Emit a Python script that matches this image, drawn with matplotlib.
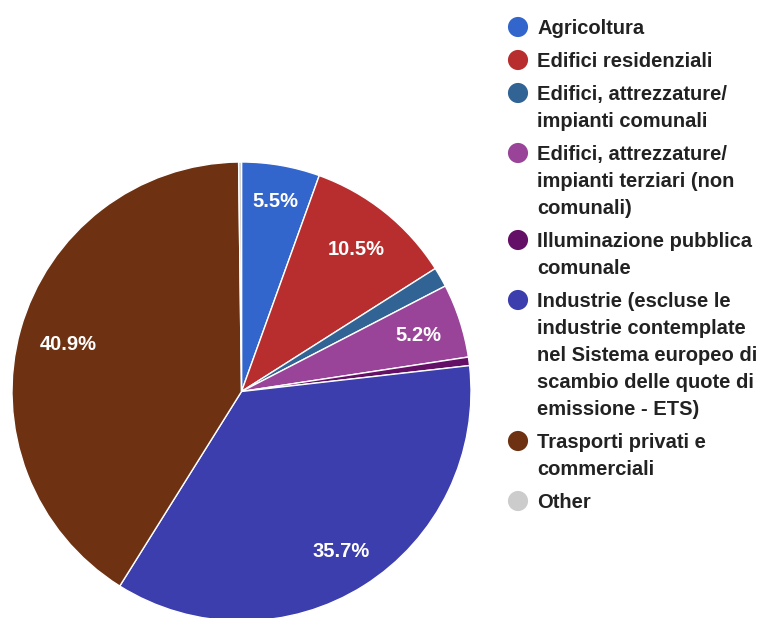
import numpy as np
import matplotlib
matplotlib.use("Agg")
import matplotlib.pyplot as plt

categories = [
    "Agricoltura",
    "Edifici residenziali",
    "Edifici, attrezzature/\nimpianti comunali",
    "Edifici, attrezzature/\nimpianti terziari (non\ncomunali)",
    "Illuminazione pubblica\ncomunale",
    "Industrie (escluse le\nindustrie contemplate\nnel Sistema europeo di\nscambio delle quote di\nemissione - ETS)",
    "Trasporti privati e\ncommerciali",
    "Other",
]
shares = [5.5, 10.5, 1.4, 5.2, 0.6, 35.7, 40.9, 0.2]
colors = ["#3366cc", "#b82e2e", "#316395", "#994499", "#651067",
          "#3b3eac", "#6e3212", "#cccccc"]

# radial placement of the percentage labels (fraction of the radius)
label_radius = [0.848, 0.80, 0.81, 0.812, 0.81, 0.814, 0.782, 0.81]

plt.rcParams["font.family"] = ["Liberation Sans", "DejaVu Sans"]

W, H = 763, 618
fig = plt.figure(figsize=(W / 100, H / 100), dpi=100)

# pie axes: centre (241.5, 391.5) px, radius 229.5 px
cx, cy, R = 241.5, 391.5, 229.5
ax = fig.add_axes([(cx - R) / W, 1 - (cy + R) / H, 2 * R / W, 2 * R / H])

wedges, _ = ax.pie(
    shares, colors=colors, startangle=90, counterclock=False, radius=1.0,
    wedgeprops=dict(edgecolor="white", linewidth=1.0),
)
ax.set_xlim(-1, 1)
ax.set_ylim(-1, 1)
ax.set_aspect("equal")
ax.axis("off")
for w in wedges:
    w.set_clip_on(False)

total = sum(shares)
lab_fs = 14.5
for w, v, r in zip(wedges, shares, label_radius):
    pct = 100 * v / total
    if pct < 5:
        continue
    ang = np.deg2rad((w.theta1 + w.theta2) / 2)
    ax.annotate(f"{pct:.1f}%", xy=(r * np.cos(ang), r * np.sin(ang)),
                xytext=(0, -0.358 * lab_fs), textcoords="offset points",
                ha="center", va="baseline", color="white",
                fontsize=lab_fs, fontweight="bold", annotation_clip=False)

# legend: overlay axes in pixel coordinates (y grows downward)
lax = fig.add_axes([0, 0, 1, 1], facecolor="none")
lax.set_xlim(0, W)
lax.set_ylim(H, 0)
lax.axis("off")

fs = 14.5
x_dot, x_txt = 518, 537
line_step, entry_gap = 27, 33
y = 27
for lab, col in zip(categories, colors):
    lines = lab.split("\n")
    lax.scatter([x_dot], [y], s=210, color=col, edgecolors="none")
    for i, ln in enumerate(lines):
        lax.text(x_txt, y + i * line_step + 7, ln, fontsize=fs,
                 fontweight="bold", color="#222222",
                 va="baseline", ha="left")
    y += (len(lines) - 1) * line_step + entry_gap

fig.savefig("out.png", dpi=100, facecolor="white")
